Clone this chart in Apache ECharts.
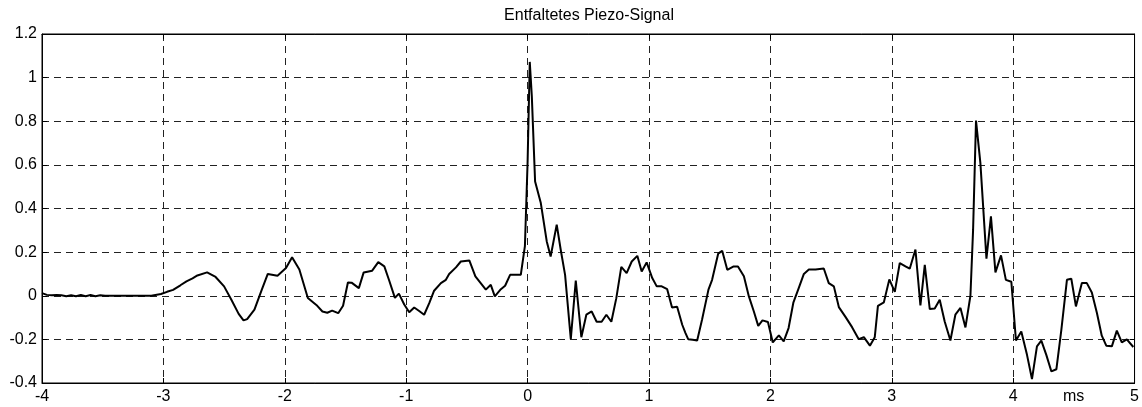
<!DOCTYPE html>
<html>
<head>
<meta charset="utf-8">
<script src="https://cdn.jsdelivr.net/npm/echarts@6/dist/echarts.min.js"></script>
<style>
html,body{margin:0;padding:0;background:#fff;}
#chart{width:1142px;height:407px;}
</style>
</head>
<body>
<div id="chart"></div>
<script>
const chartTitle = "Entfaltetes Piezo-Signal";
const xUnit = "ms";
const xTicks = { min: -4, max: 5, step: 1 };
const yTicks = { min: -0.4, max: 1.2, step: 0.2 };

const timeMs = [
-4.00,-3.96,-3.92,-3.88,-3.84,-3.80,-3.76,-3.72,-3.68,-3.64,-3.60,-3.56,-3.52,-3.48,-3.40,-3.30,-3.20,-3.10,
-3.02,-2.97,-2.92,-2.86,-2.81,-2.76,-2.72,-2.64,-2.57,-2.50,-2.44,-2.38,-2.34,-2.31,-2.25,-2.19,-2.14,-2.06,
-1.99,-1.94,-1.88,-1.81,-1.74,-1.69,-1.65,-1.61,-1.56,-1.52,-1.48,-1.45,-1.39,-1.35,-1.28,-1.23,-1.18,-1.14,
-1.093,-1.06,-1.016,-0.975,-0.934,-0.893,-0.852,-0.81,-0.77,-0.714,-0.673,-0.646,-0.59,-0.55,-0.48,-0.43,
-0.344,-0.303,-0.27,-0.22,-0.185,-0.144,-0.056,-0.022,0.000,0.018,0.035,0.062,0.109,0.158,0.190,0.240,0.273,
0.309,0.356,0.397,0.443,0.484,0.528,0.569,0.610,0.649,0.690,0.731,0.772,0.816,0.858,0.904,0.940,0.981,1.027,
1.064,1.105,1.150,1.190,1.232,1.274,1.300,1.323,1.360,1.397,1.437,1.490,1.520,1.570,1.603,1.645,1.694,1.733,
1.782,1.823,1.864,1.900,1.935,1.980,2.020,2.070,2.110,2.150,2.190,2.229,2.276,2.317,2.372,2.440,2.481,2.523,
2.564,2.620,2.673,2.728,2.770,2.820,2.860,2.886,2.935,2.980,3.025,3.066,3.113,3.148,3.195,3.236,3.272,3.313,
3.354,3.395,3.436,3.483,3.524,3.566,3.607,3.648,3.670,3.694,3.730,3.780,3.817,3.854,3.900,3.940,3.985,4.023,
4.067,4.114,4.155,4.196,4.232,4.273,4.315,4.356,4.397,4.443,4.479,4.517,4.566,4.607,4.648,4.690,4.730,4.767,
4.813,4.854,4.895,4.936,4.990
];

const signal = [
0.012,0.004,0.002,0.003,0.002,-0.002,0.002,-0.002,0.003,-0.002,0.003,-0.002,0.002,0.000,0.000,0.000,0.000,0.000,
0.008,0.018,0.027,0.048,0.066,0.080,0.093,0.107,0.086,0.043,-0.018,-0.083,-0.113,-0.107,-0.064,0.027,0.100,0.092,
0.127,0.176,0.120,-0.010,-0.042,-0.072,-0.078,-0.068,-0.080,-0.046,0.061,0.060,0.035,0.107,0.115,0.154,0.135,0.070,
-0.010,0.010,-0.040,-0.076,-0.054,-0.070,-0.087,-0.034,0.023,0.058,0.073,0.100,0.130,0.157,0.162,0.089,
0.028,0.050,-0.003,0.030,0.046,0.096,0.096,0.228,0.610,1.072,0.914,0.524,0.425,0.249,0.180,0.326,0.211,
0.096,-0.199,0.070,-0.190,-0.087,-0.072,-0.119,-0.119,-0.087,-0.119,-0.011,0.132,0.104,0.157,0.183,0.111,0.153,0.081,
0.043,0.043,0.030,-0.054,-0.050,-0.133,-0.170,-0.199,-0.202,-0.205,-0.110,0.028,0.073,0.193,0.206,0.119,0.134,0.134,
0.089,-0.003,-0.072,-0.138,-0.113,-0.120,-0.214,-0.182,-0.209,-0.148,-0.030,0.028,0.100,0.120,0.120,0.125,0.058,0.043,
-0.052,-0.098,-0.144,-0.199,-0.190,-0.229,-0.190,-0.046,-0.030,0.075,0.018,0.150,0.135,0.124,0.212,-0.044,0.142,-0.061,
-0.058,-0.018,-0.118,-0.205,-0.087,-0.056,-0.145,0.000,0.303,0.803,0.609,0.170,0.364,0.107,0.185,0.073,0.064,-0.205,
-0.164,-0.271,-0.382,-0.232,-0.206,-0.271,-0.347,-0.337,-0.156,0.073,0.078,-0.049,0.058,0.058,0.015,-0.079,-0.183,-0.229,
-0.232,-0.160,-0.214,-0.200,-0.235
];

const points = timeMs.map((t, i) => [t, signal[i]]);
const font = "'Liberation Sans', Arial, Helvetica, sans-serif";
const gridDash = { color: '#222', type: [7, 5], width: 1 };

const chart = echarts.init(document.getElementById('chart'), null, { renderer: 'canvas' });
chart.setOption({
  animation: false,
  backgroundColor: '#fff',
  title: {
    text: chartTitle,
    left: 589, textAlign: 'center', top: 8, padding: 0,
    textStyle: { fontFamily: font, fontSize: 16, fontWeight: 'normal', color: '#000' }
  },
  grid: { left: 42, right: 6, top: 34, bottom: 24, show: true, borderColor: '#000', borderWidth: 1, backgroundColor: '#fff' },
  xAxis: [{
    type: 'value', position: 'bottom', min: xTicks.min, max: xTicks.max, interval: xTicks.step,
    name: xUnit, nameLocation: 'end', nameGap: -61,
    nameTextStyle: { fontFamily: font, fontSize: 16, color: '#000', align: 'center', verticalAlign: 'top', padding: [6, 0, 0, 0] },
    axisLine: { show: true, onZero: false, lineStyle: { color: '#000', width: 1 } },
    axisTick: { show: true, inside: true, length: 5, lineStyle: { color: '#000' } },
    axisLabel: { fontFamily: font, fontSize: 16, color: '#000', margin: 6 },
    splitLine: { show: true, lineStyle: gridDash }
  }, {
    type: 'value', position: 'top', min: xTicks.min, max: xTicks.max, interval: xTicks.step,
    axisLine: { show: true, onZero: false, lineStyle: { color: '#000' } },
    axisTick: { show: true, inside: true, length: 5, lineStyle: { color: '#000' } },
    axisLabel: { show: false }, splitLine: { show: false }
  }],
  yAxis: [{
    type: 'value', position: 'left', min: yTicks.min, max: yTicks.max, interval: yTicks.step,
    axisLine: { show: true, onZero: false, lineStyle: { color: '#000', width: 1 } },
    axisTick: { show: true, inside: true, length: 5, lineStyle: { color: '#000' } },
    axisLabel: { fontFamily: font, fontSize: 16, color: '#000', margin: 5 },
    splitLine: { show: true, lineStyle: gridDash }
  }, {
    type: 'value', position: 'right', min: yTicks.min, max: yTicks.max, interval: yTicks.step,
    axisLine: { show: true, onZero: false, lineStyle: { color: '#000' } },
    axisTick: { show: true, inside: true, length: 5, lineStyle: { color: '#000' } },
    axisLabel: { show: false }, splitLine: { show: false }
  }],
  series: [{
    type: 'line', data: points, xAxisIndex: 0, yAxisIndex: 0,
    showSymbol: false, smooth: false,
    lineStyle: { color: '#000', width: 2 },
    z: 5
  }]
});
</script>
</body>
</html>
